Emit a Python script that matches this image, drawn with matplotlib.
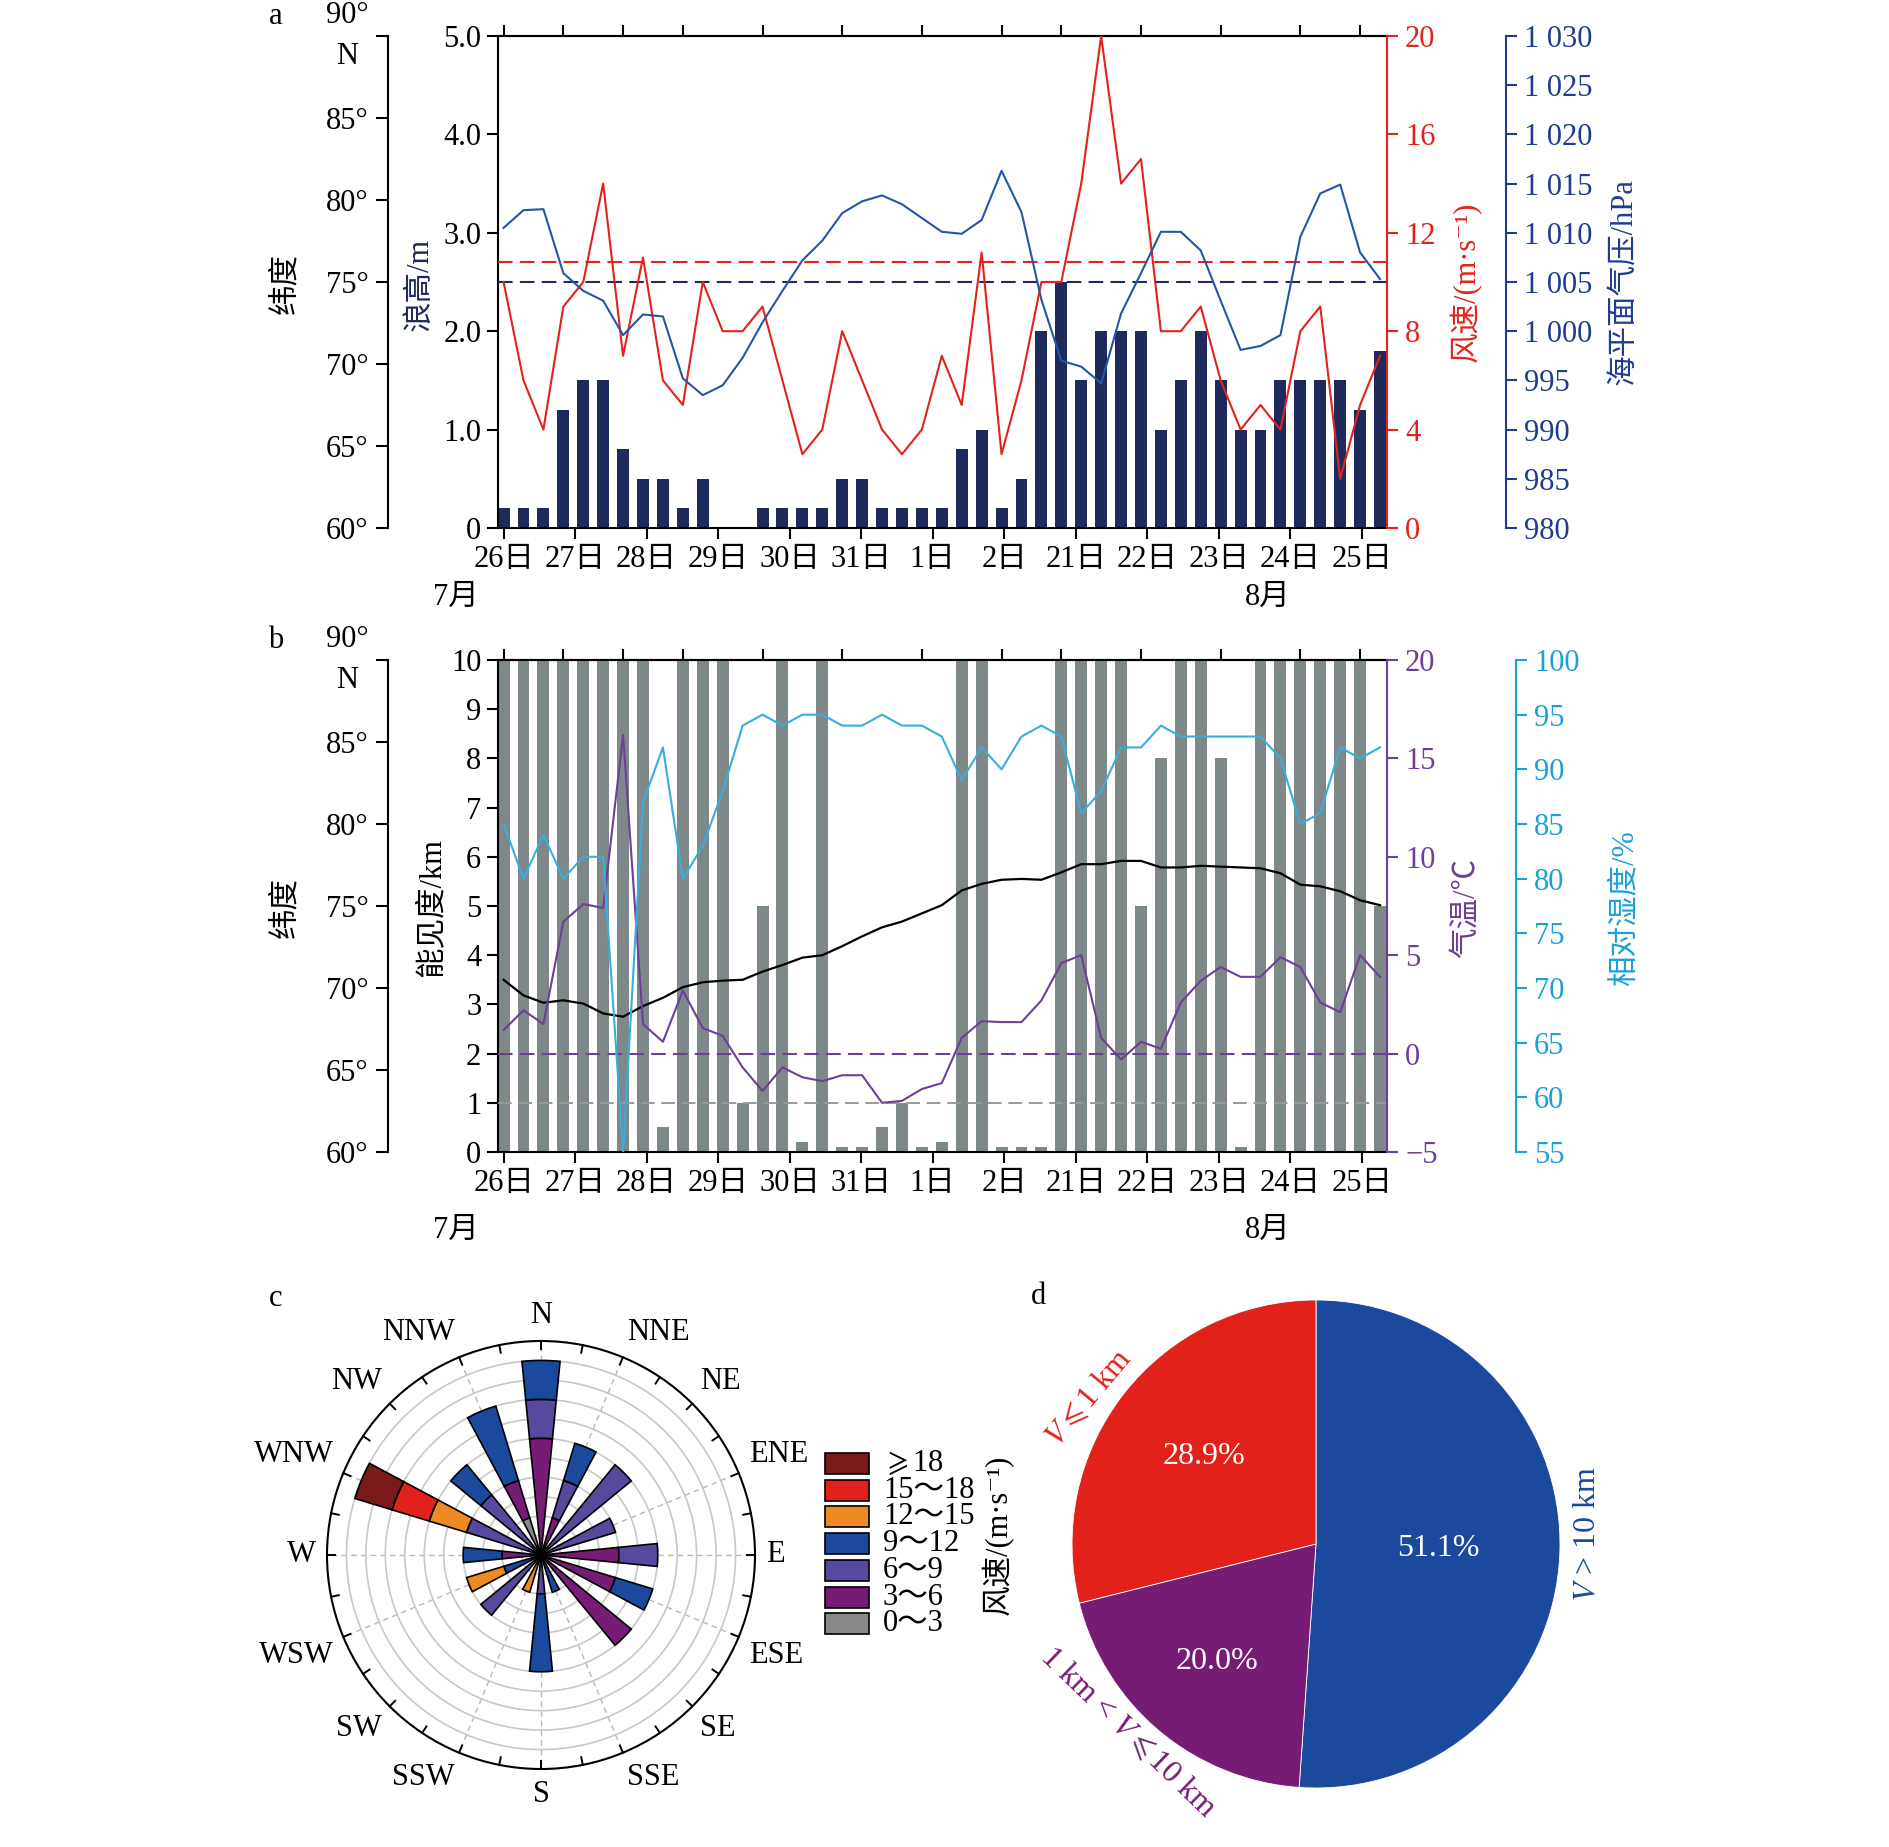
import numpy as np
import matplotlib
matplotlib.use("Agg")
import matplotlib.pyplot as plt
from matplotlib.patches import Rectangle

plt.rcParams['font.family'] = ['Liberation Serif', 'Noto Sans CJK SC', 'DejaVu Serif']
plt.rcParams['mathtext.fontset'] = 'stix'

# ===============================
# data (one value per observation)
# ===============================
lat = [70.5, 69.55, 69.1, 69.25, 69.05, 68.45, 68.25, 68.9, 69.4, 70.05,
       70.35, 70.45, 70.5, 71.0, 71.4, 71.85, 72.0, 72.55, 73.15, 73.7,
       74.05, 74.55, 75.05, 75.95, 76.35, 76.6, 76.65, 76.6, 77.05, 77.55,
       77.55, 77.75, 77.75, 77.35, 77.35, 77.45, 77.4, 77.35, 77.3, 77.0,
       76.3, 76.2, 75.9, 75.35, 75.05]
wave = [0.2, 0.2, 0.2, 1.2, 1.5, 1.5, 0.8, 0.5, 0.5, 0.2,
        0.5, 0, 0, 0.2, 0.2, 0.2, 0.2, 0.5, 0.5, 0.2,
        0.2, 0.2, 0.2, 0.8, 1.0, 0.2, 0.5, 2.0, 2.5, 1.5,
        2.0, 2.0, 2.0, 1.0, 1.5, 2.0, 1.5, 1.0, 1.0, 1.5,
        1.5, 1.5, 1.5, 1.2, 1.8]
wind = [10, 6, 4, 9, 10, 14, 7, 11, 6, 5,
        10, 8, 8, 9, 6, 3, 4, 8, 6, 4,
        3, 4, 7, 5, 11.2, 3, 6, 10, 10, 14,
        20, 14, 15, 8, 8, 9, 6, 4, 5, 4,
        8, 9, 2, 5, 7]
slp = [1010.5, 1012.3, 1012.4, 1005.9, 1004.1, 1003.1, 999.6, 1001.7, 1001.5, 995.2,
       993.5, 994.5, 997.3, 1000.9, 1004.1, 1007.2, 1009.2, 1012.0, 1013.2, 1013.8,
       1012.9, 1011.5, 1010.1, 1009.9, 1011.3, 1016.3, 1012.1, 1003.2, 997.0, 996.4,
       994.7, 1001.8, 1005.9, 1010.1, 1010.1, 1008.2, 1003.1, 998.1, 998.5, 999.6,
       1009.6, 1014.0, 1014.9, 1008.0, 1005.3]
vis = [10, 10, 10, 10, 10, 10, 10, 10, 0.5, 10,
       10, 10, 1.0, 5.0, 10, 0.2, 10, 0.1, 0.1, 0.5,
       1.0, 0.1, 0.2, 10, 10, 0.1, 0.1, 0.1, 10, 10,
       10, 10, 5.0, 8.0, 10, 10, 8.0, 0.1, 10, 10,
       10, 10, 10, 10, 5.0]
temp = [1.2, 2.2, 1.5, 6.7, 7.6, 7.4, 16.2, 1.5, 0.6, 3.2,
        1.3, 0.9, -0.7, -1.9, -0.7, -1.2, -1.4, -1.1, -1.1, -2.5,
        -2.4, -1.8, -1.5, 0.8, 1.65, 1.6, 1.6, 2.7, 4.6, 5.0,
        0.8, -0.3, 0.6, 0.25, 2.6, 3.7, 4.4, 3.9, 3.9, 4.9,
        4.4, 2.6, 2.1, 5.0, 3.9]
rh = [85, 80, 84, 80, 82, 82, 55, 87, 92, 80,
      83, 88, 94, 95, 94, 95, 95, 94, 94, 95,
      94, 94, 93, 89, 92, 90, 93, 94, 93, 86,
      88, 92, 92, 94, 93, 93, 93, 93, 93, 91,
      85, 86, 92, 91, 92]

day_labels = ['26日', '27日', '28日', '29日', '30日', '31日', '1日', '2日',
              '21日', '22日', '23日', '24日', '25日']
day_start = [0, 3, 6, 9, 13, 17, 21, 25, 28, 32, 36, 40, 43]
label_step = 3.59

wave_ref = 2.5
wind_ref = 10.8
temp_ref = 0
vis_ref = 1

rose_dirs = ['N', 'NNE', 'NE', 'ENE', 'E', 'ESE', 'SE', 'SSE',
             'S', 'SSW', 'SW', 'WSW', 'W', 'WNW', 'NW', 'NNW']
rose_0_3   = [0, 0, 0, 0, 0, 0, 0, 0, 0, 0, 0, 0, 0, 0, 0, 2]
rose_3_6   = [6, 2, 0, 0, 4, 4, 6, 0, 0, 0, 0, 0, 2, 0, 0, 2]
rose_6_9   = [2, 2, 6, 4, 2, 0, 0, 0, 2, 0, 4, 0, 0, 4, 4, 0]
rose_9_12  = [2, 2, 0, 0, 0, 2, 0, 2, 4, 0, 0, 2, 2, 0, 2, 4]
rose_12_15 = [0, 0, 0, 0, 0, 0, 0, 0, 0, 2, 0, 2, 0, 2, 0, 0]
rose_15_18 = [0, 0, 0, 0, 0, 0, 0, 0, 0, 0, 0, 0, 0, 2, 0, 0]
rose_18    = [0, 0, 0, 0, 0, 0, 0, 0, 0, 0, 0, 0, 0, 2, 0, 0]
rose_bins = ['0～3', '3～6', '6～9', '9～12', '12～15', '15～18', r'$\geqslant$18']

vis_share = [51.1, 20.0, 28.9]
vis_class = ['$V$ > 10 km', '1 km < $V\\leqslant$10 km', '$V\\leqslant$1 km']

# ===============================
# colours / helpers
# ===============================
NAVY = '#1f2a5c'
RED = '#e2231c'
BLUE = '#2356a5'
PBLUE = '#1f3d8f'
GRAYBAR = '#7e8889'
PURPLE = '#6d3f98'
CYAN = '#38ade0'
CYANTXT = '#1ba0d8'
rose_colors = ['#888888', '#771c74', '#574a9e', '#1b4a9c', '#ee8a22', '#e3211b', '#7b1a1d']
pie_colors = ['#1b4a9c', '#761c75', '#e3211b']
FS = 22
WIND_UNIT = '风速/(m·s⁻¹)'

W, H = 1890, 1847
fig = plt.figure(figsize=(W / 100, H / 100), dpi=100)


def box(l, t, r, b, **kw):
    return fig.add_axes([l / W, 1 - b / H, (r - l) / W, (b - t) / H], **kw)


def keep_spines(ax, keep):
    for s in ax.spines:
        ax.spines[s].set_visible(s in keep)


def ptxt(x, y, s, **kw):
    kw.setdefault('fontsize', FS)
    kw.setdefault('ha', 'center')
    kw.setdefault('va', 'center')
    fig.text(x / W, 1 - y / H, s, **kw)


x = np.arange(len(lat))
xlim = (-0.28, 44.35)
ax_left, ax_right = 498, 1387
ax_w = ax_right - ax_left
LAT_OFF = (388 - ax_left) / ax_w
DASH = (0, (7, 3.5))


def base_panel(top, bottom):
    ax = box(ax_left, top, ax_right, bottom)
    ax.set_xlim(*xlim)
    ax.set_xticks(np.arange(len(day_labels)) * label_step)
    ax.set_xticklabels(day_labels)
    ax.tick_params(axis='both', direction='out', length=8, width=1.5, labelsize=FS, pad=4)
    ax.tick_params(axis='x', top=False)
    keep_spines(ax, ['left', 'top', 'bottom'])
    for s in ax.spines.values():
        s.set_linewidth(1.5)
    sec = ax.secondary_xaxis('top')
    sec.set_xticks(day_start)
    sec.set_xticklabels([])
    sec.tick_params(direction='out', length=8, width=1.5)
    sec.spines['top'].set_linewidth(1.5)
    # latitude axis
    axl = ax.twinx()
    axl.plot(x, lat, color='black', lw=1.6, zorder=5)
    axl.set_ylim(60, 90)
    axl.set_yticks(np.arange(60, 91, 5))
    labs = [f'{v}°' for v in range(60, 90, 5)] + ['90°\nN']
    axl.set_yticklabels(labs)
    axl.yaxis.tick_left()
    keep_spines(axl, ['left'])
    axl.spines['left'].set_position(('axes', LAT_OFF))
    axl.spines['left'].set_linewidth(1.5)
    axl.tick_params(direction='out', length=9, width=1.5, labelsize=FS, pad=5)
    t = axl.get_yticklabels()[-1]
    t.set_multialignment('center')
    t.set_linespacing(1.55)
    t.set_verticalalignment('center')
    return ax, axl


def side_axis(ax, pos, lo, hi, step, color, labels=None):
    a = ax.twinx()
    a.set_ylim(lo, hi)
    ticks = np.arange(lo, hi + step / 2, step)
    a.set_yticks(ticks)
    if labels is not None:
        a.set_yticklabels(labels(ticks))
    keep_spines(a, ['right'])
    if pos is not None:
        a.spines['right'].set_position(('axes', pos))
    a.spines['right'].set_color(color)
    a.spines['right'].set_linewidth(1.5)
    a.tick_params(direction='out', length=8, width=1.5, labelsize=FS, colors=color, pad=5)
    return a


def pres_fmt(ticks):
    out = []
    for v in ticks.astype(int):
        out.append(f'{v // 1000} {v % 1000:03d}' if v >= 1000 else str(v))
    return out


# ===============================
# panel a
# ===============================
axA, axAL = base_panel(36, 528)
axA.bar(x, wave, width=0.6, color=NAVY, zorder=2)
axA.axhline(wave_ref, color=NAVY, ls=DASH, lw=1.5, zorder=3)
axA.set_ylim(0, 5)
axA.set_yticks(np.arange(0, 6))
axA.set_yticklabels(['0'] + [f'{v:.1f}' for v in range(1, 6)])
axA.set_zorder(1)

axW = side_axis(axA, None, 0, 20, 4, RED)
axW.plot(x, wind, color=RED, lw=1.5)
axW.axhline(wind_ref, color=RED, ls=DASH, lw=1.5)

axP = side_axis(axA, (1506 - ax_left) / ax_w, 980, 1030, 5, PBLUE, pres_fmt)
axP.plot(x, slp, color=BLUE, lw=1.5)

ptxt(276, 16, 'a')
ptxt(286, 284, '纬度', rotation=90)
ptxt(420, 284, '浪高/m', rotation=90, color=NAVY)
ptxt(1466, 282, WIND_UNIT, rotation=90, color=RED)
ptxt(1625, 282, '海平面气压/hPa', rotation=90, color=PBLUE)
ptxt(456, 597, '7月')
ptxt(1268, 597, '8月')

# ===============================
# panel b
# ===============================
axB, axBL = base_panel(660, 1152)
axB.bar(x, vis, width=0.6, color=GRAYBAR, zorder=2)
axB.axhline(vis_ref, color='#999999', ls=DASH, lw=1.4, zorder=3)
axB.set_ylim(0, 10)
axB.set_yticks(np.arange(0, 11))

axT = side_axis(axB, None, -5, 20, 5, PURPLE)
axT.plot(x, temp, color=PURPLE, lw=1.5)
axT.axhline(temp_ref, color=PURPLE, ls=DASH, lw=1.5)

axR = side_axis(axB, (1516 - ax_left) / ax_w, 55, 100, 5, CYANTXT)
axR.plot(x, rh, color=CYAN, lw=1.5)

ptxt(276, 640, 'b')
ptxt(286, 908, '纬度', rotation=90)
ptxt(432, 908, '能见度/km', rotation=90)
ptxt(1466, 908, '气温/℃', rotation=90, color=PURPLE)
ptxt(1625, 908, '相对湿度/%', rotation=90, color=CYANTXT)
ptxt(456, 1230, '7月')
ptxt(1268, 1230, '8月')

# ===============================
# panel c : wind rose
# ===============================
axC = box(327, 1341, 755, 1769, projection='polar')
axC.set_theta_zero_location('N')
axC.set_theta_direction(-1)
theta = np.deg2rad(np.arange(len(rose_dirs)) * 22.5)
bottom = np.zeros(len(rose_dirs))
series = [rose_0_3, rose_3_6, rose_6_9, rose_9_12, rose_12_15, rose_15_18, rose_18]
for vals, col in zip(series, rose_colors):
    vals = np.array(vals, dtype=float)
    m = vals > 0
    axC.bar(theta[m], vals[m], width=np.deg2rad(11.25), bottom=bottom[m],
            color=col, edgecolor='black', linewidth=1.2, zorder=3)
    bottom += vals
axC.set_ylim(0, 11)
axC.set_yticks(np.arange(1, 11))
axC.set_yticklabels([])
grid_ang = [a for a in np.arange(0, 360, 22.5) if a % 90 != 45]
axC.set_xticks(np.deg2rad(grid_ang))
axC.set_xticklabels([])
axC.xaxis.grid(True, ls=(0, (4, 3)), color='#b8b8b8', lw=1.0)
axC.yaxis.grid(True, ls='-', color='#c8c8c8', lw=1.2)
axC.spines['polar'].set_linewidth(1.5)
axC.tick_params(length=0)
for a in np.deg2rad(np.arange(0, 360, 11.25)):
    axC.plot([a, a], [10.6, 11], color='black', lw=1.4, clip_on=False, zorder=4)
for ang, name in zip(np.arange(len(rose_dirs)) * 22.5, rose_dirs):
    s, c = np.sin(np.deg2rad(ang)), np.cos(np.deg2rad(ang))
    ha = 'left' if s > 0.2 else ('right' if s < -0.2 else 'center')
    va = 'bottom' if c > 0.2 else ('top' if c < -0.2 else 'center')
    axC.text(np.deg2rad(ang), 11.55, name, ha=ha, va=va, fontsize=FS)

# legend
axLg = box(820, 1440, 1010, 1650)
axLg.set_xlim(820, 1010)
axLg.set_ylim(1650, 1440)
axLg.axis('off')
for i, (lab, col) in enumerate(zip(rose_bins[::-1], rose_colors[::-1])):
    yc = 1463.5 + 26.7 * i
    axLg.add_patch(Rectangle((825, yc - 10.5), 44, 21, facecolor=col,
                             edgecolor='black', lw=1.2))
    axLg.text(883, yc, lab, ha='left', va='center', fontsize=FS)
ptxt(998, 1535, WIND_UNIT, rotation=90)
ptxt(276, 1299, 'c')

# ===============================
# panel d : visibility pie
# ===============================
cx, cy, R = 1316, 1544, 244
axD = box(cx - R, cy - R, cx + R, cy + R)
wedges, _ = axD.pie(vis_share, colors=pie_colors, startangle=90, counterclock=False,
                    radius=1, wedgeprops=dict(edgecolor='white', linewidth=0.6))
axD.set_xlim(-1, 1)
axD.set_ylim(-1, 1)
axD.set_aspect('equal')
pct_r = [0.5, 0.63, 0.58]
for w, v, pr in zip(wedges, vis_share, pct_r):
    mid = np.deg2rad((w.theta1 + w.theta2) / 2)
    axD.text(pr * np.cos(mid), pr * np.sin(mid), f'{v:.1f}%', color='white',
             ha='center', va='center', fontsize=23)
lab_pos = [(1.115, 0.04), (-0.77, -0.77), (-0.93, 0.60)]
lab_rot = [90, -44, 50]
for (lx, ly), rot, lab, col in zip(lab_pos, lab_rot, vis_class, pie_colors):
    axD.text(lx, ly, lab, rotation=rot, color=col, ha='center', va='center',
             fontsize=23, rotation_mode='anchor', clip_on=False)
ptxt(1038, 1297, 'd')

fig.savefig('out.png', dpi=100)
